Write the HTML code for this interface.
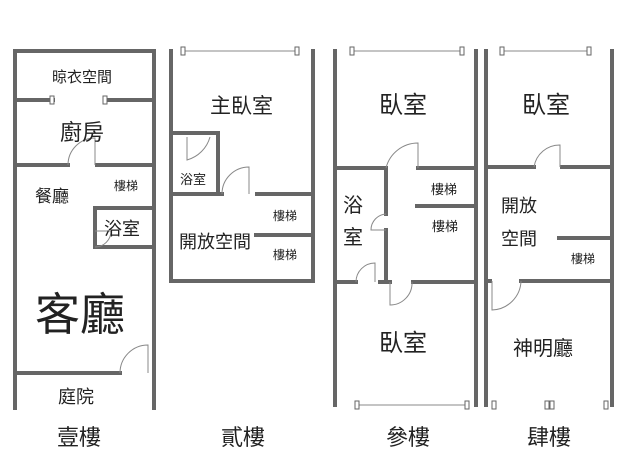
<!DOCTYPE html>
<html><head><meta charset="utf-8"><style>
html,body{margin:0;padding:0;background:#fff;width:640px;height:461px;overflow:hidden}
svg text{font-family:"Liberation Sans","Noto Sans CJK TC",sans-serif;fill:#222}
</style></head><body>
<svg width="640" height="461" viewBox="0 0 640 461" xmlns="http://www.w3.org/2000/svg">
<g stroke="#666" stroke-width="4" fill="none" stroke-linecap="square">
<path d="M15 408V51H154V408"/>
<path d="M15 100H53M108 100H154"/>
<path d="M15 165H68M97 165H154"/>
<path d="M95 208V247H154M95 208H154"/>
<path d="M15 373H120"/>
<path d="M171 51V281H313V51"/>
<path d="M171 133H218V194"/>
<path d="M171 194H222M257 194H313"/>
<path d="M256 235H313"/>
<path d="M335 51V405M476 51V405"/>
<path d="M335 168H386M418 168H476"/>
<path d="M386 168V214M386 230V282"/>
<path d="M417 206H476"/>
<path d="M335 282H356M380 282H390M413 282H476"/>
<path d="M486 51V405M612 51V405"/>
<path d="M486 167H534M562 167H612"/>
<path d="M559 238H612"/>
<path d="M486 281H490M521 281H610"/>
</g>
<g stroke="#888" stroke-width="1" fill="none">
<path d="M183 51H298M353 51H463M503 51H590M356 405H467"/>
<path d="M68 165A27 27 0 0 1 95 138V165"/>
<path d="M95 247A16 16 0 0 0 111 231M95 231H111"/>
<path d="M120 373A28 28 0 0 1 148 345V373"/>
<path d="M187 137V160A33 33 0 0 0 210 137"/>
<path d="M222 194A27 27 0 0 1 249 167V194"/>
<path d="M386 168A33 33 0 0 1 418 143V168"/>
<path d="M386 214A16 16 0 0 0 371 230H386"/>
<path d="M356 282A19 19 0 0 1 375 263V282"/>
<path d="M390 282V305A22 22 0 0 0 412 282"/>
<path d="M534 167A26 26 0 0 1 560 145V167"/>
<path d="M492 281V310A30 30 0 0 0 521 281"/>
</g>
<g fill="#fff" stroke="#666" stroke-width="1">
<rect x="50" y="96" width="4" height="8"/><rect x="103" y="96" width="4" height="8"/>
<rect x="181" y="47" width="4" height="8"/><rect x="295" y="47" width="4" height="8"/>
<rect x="350" y="47" width="4" height="8"/><rect x="460" y="47" width="4" height="8"/>
<rect x="500" y="47" width="4" height="8"/><rect x="587" y="47" width="4" height="8"/>
<rect x="355" y="401" width="4" height="8"/><rect x="465" y="401" width="4" height="8"/>
<rect x="492" y="401" width="4" height="8"/><rect x="545" y="401" width="4" height="8"/><rect x="550" y="401" width="4" height="8"/><rect x="604" y="401" width="4" height="8"/>
</g>
<text x="52" y="82" font-size="15">晾衣空間</text>
<text x="60" y="140" font-size="22">廚房</text>
<text x="35" y="202" font-size="17">餐廳</text>
<text x="114" y="190" font-size="12">樓梯</text>
<text x="104" y="235" font-size="18">浴室</text>
<text x="35" y="330" font-size="45">客廳</text>
<text x="58" y="403" font-size="18">庭院</text>
<text x="210" y="113" font-size="21">主臥室</text>
<text x="180" y="184" font-size="13">浴室</text>
<text x="273" y="220" font-size="12">樓梯</text>
<text x="179" y="248" font-size="18">開放空間</text>
<text x="273" y="259" font-size="12">樓梯</text>
<text x="379" y="113" font-size="24">臥室</text>
<text x="431" y="194" font-size="13">樓梯</text>
<text x="432" y="231" font-size="13">樓梯</text>
<text x="343" y="212" font-size="20">浴</text>
<text x="343" y="244" font-size="20">室</text>
<text x="379" y="351" font-size="24">臥室</text>
<text x="522" y="113" font-size="24">臥室</text>
<text x="501" y="212" font-size="18">開放</text>
<text x="501" y="245" font-size="18">空間</text>
<text x="571" y="263" font-size="12">樓梯</text>
<text x="513" y="355" font-size="20">神明廳</text>
<text x="57" y="445" font-size="22">壹樓</text>
<text x="221" y="445" font-size="22">貳樓</text>
<text x="386" y="445" font-size="22">參樓</text>
<text x="527" y="445" font-size="22">肆樓</text>
</svg>
</body></html>
